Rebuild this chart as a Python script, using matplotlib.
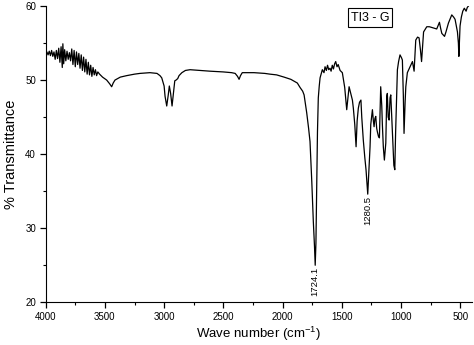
import matplotlib
matplotlib.use("Agg")
import matplotlib.pyplot as plt
from matplotlib.ticker import MultipleLocator

plt.rcParams['font.family'] = ['Liberation Sans', 'DejaVu Sans']

# FTIR spectrum (wavenumber cm-1, % transmittance)
wavenumber = [
    4000, 3990, 3980, 3970, 3960, 3950, 3940, 3930, 3920, 3910, 3900, 3890,
    3880, 3870, 3860, 3855, 3848, 3840, 3830, 3820, 3810, 3800, 3790, 3780,
    3770, 3760, 3750, 3740, 3730, 3720, 3710, 3700, 3690, 3680, 3670, 3660,
    3650, 3640, 3630, 3620, 3610, 3600, 3590, 3580, 3570, 3560, 3545, 3520,
    3485, 3460, 3443, 3430, 3415, 3370, 3316, 3250, 3204, 3120, 3060, 3035,
    3020, 3000, 2992, 2978, 2965, 2956, 2945, 2933, 2920, 2910, 2899, 2885,
    2874, 2850, 2820, 2781, 2700, 2612, 2500, 2430, 2400, 2380, 2367, 2355,
    2340, 2317, 2241, 2150, 2106, 2050, 1987, 1930, 1875, 1852, 1830, 1818,
    1796, 1780, 1768, 1753, 1740, 1730, 1724.1, 1718, 1711, 1705, 1698, 1690,
    1683, 1664, 1650, 1641, 1630, 1620, 1610, 1599, 1590, 1580, 1570, 1560,
    1551, 1540, 1530, 1514, 1495, 1475, 1458, 1438, 1430, 1410, 1402, 1390,
    1379, 1370, 1360, 1350, 1338, 1331, 1318, 1305, 1295, 1280.5, 1270, 1261,
    1255, 1241, 1233, 1227, 1220, 1213, 1205, 1199, 1190, 1182, 1171, 1162,
    1157, 1149, 1140, 1128, 1120, 1115, 1108, 1100, 1092, 1086, 1075, 1060,
    1052, 1045, 1030, 1020, 1008, 995, 988, 980, 974, 965, 959, 946,
    923, 903, 889, 875, 860, 847, 835, 826, 815, 809, 782, 760,
    720, 698, 675, 665, 655, 632, 620, 599, 571, 555, 543, 523,
    515, 511, 505, 501, 490, 478, 465, 458, 450, 440, 430,
]
transmittance = [
    53.6, 53.8, 53.4, 53.9, 53.3, 54.0, 53.2, 53.8, 52.8, 54.0, 52.9, 54.3,
    52.4, 54.5, 51.7, 54.9, 52.2, 54.1, 52.6, 53.9, 52.8, 53.7, 52.6, 54.2,
    52.1, 54.0, 51.8, 53.8, 52.1, 53.6, 51.6, 53.4, 51.3, 53.1, 51.1, 52.8,
    50.8, 52.4, 50.7, 52.0, 50.5, 51.7, 50.7, 51.4, 50.6, 51.1, 50.8, 50.4,
    50.0, 49.5, 49.1, 49.6, 50.0, 50.4, 50.6, 50.8, 50.9, 51.0, 50.9, 50.6,
    50.3, 49.2, 47.8, 46.5, 48.0, 49.2, 48.2, 46.5, 48.5, 49.9, 50.0, 50.2,
    50.6, 51.0, 51.3, 51.4, 51.3, 51.2, 51.1, 51.0, 50.9, 50.5, 50.1, 50.6,
    51.0, 51.0, 51.0, 50.9, 50.8, 50.7, 50.4, 50.1, 49.6, 49.0, 48.5, 48.0,
    45.6, 43.5, 41.7, 36.3, 30.9, 27.5, 25.0, 28.0, 36.0, 43.0, 47.6, 49.2,
    50.3, 51.4, 51.0, 51.8, 51.3, 52.0, 51.4, 51.6, 51.2, 52.0, 51.5, 52.2,
    52.5, 51.8, 52.1, 51.3, 51.0, 49.0, 46.0, 49.1, 48.6, 47.3, 46.2, 44.0,
    41.0, 44.5, 46.2, 47.0, 47.3, 45.0, 41.9, 39.5, 37.9, 34.6, 38.0, 41.0,
    44.0, 46.0, 44.5, 43.7, 44.8, 45.1, 43.5, 43.0, 42.4, 42.2, 49.1, 46.5,
    44.0, 41.0, 39.2, 41.5, 47.8, 48.2, 45.0, 44.6, 47.6, 48.0, 44.0, 38.5,
    37.9, 43.0, 51.4, 52.5, 53.4, 53.0, 52.7, 48.0, 42.8, 47.0, 49.1, 51.0,
    51.8, 52.5, 51.2, 55.4, 55.8, 55.7, 54.0, 52.5, 55.0, 56.5, 57.2, 57.2,
    57.0, 56.9, 57.8, 57.0, 56.3, 55.9, 56.5, 57.7, 58.8, 58.5, 58.2, 56.5,
    55.0, 53.2, 55.5, 57.3, 58.5, 59.3, 59.7, 59.5, 59.3, 59.8, 60.0,
]

peak_labels = [1724.1, 1280.5]
sample_name = "TI3 - G"

fig = plt.figure(figsize=(4.74, 3.45), dpi=100)
ax = fig.add_axes([0.0964, 0.1238, 0.8994, 0.8588])

ax.plot(wavenumber, transmittance, color='black', linewidth=0.9)

for pk in peak_labels:
    idx = wavenumber.index(pk)
    ax.annotate(f"{pk}", xy=(pk, transmittance[idx]), xytext=(0, -1),
                textcoords='offset points', rotation=90, ha='center', va='top',
                fontsize=6.8)

ax.text(0.761, 0.961, sample_name, transform=ax.transAxes, ha='center', va='center',
        fontsize=9, bbox=dict(boxstyle='square,pad=0.25', facecolor='white',
                              edgecolor='black', linewidth=0.8))

ax.set_xlim(4000, 400)
ax.set_ylim(20, 60)
ax.xaxis.set_major_locator(MultipleLocator(500))
ax.xaxis.set_minor_locator(MultipleLocator(250))
ax.yaxis.set_major_locator(MultipleLocator(10))
ax.yaxis.set_minor_locator(MultipleLocator(5))

ax.spines['top'].set_visible(False)
ax.spines['right'].set_visible(False)
ax.tick_params(which='major', direction='out', length=4, width=0.9, labelsize=7, pad=3)
ax.tick_params(which='minor', direction='out', length=2.2, width=0.8)

ax.set_xlabel(r'Wave number (cm$^{\mathregular{-1}}$)', fontsize=9.5, labelpad=2)
ax.set_ylabel('% Transmittance', fontsize=10.5, labelpad=5)

fig.savefig("out.png", dpi=100)
